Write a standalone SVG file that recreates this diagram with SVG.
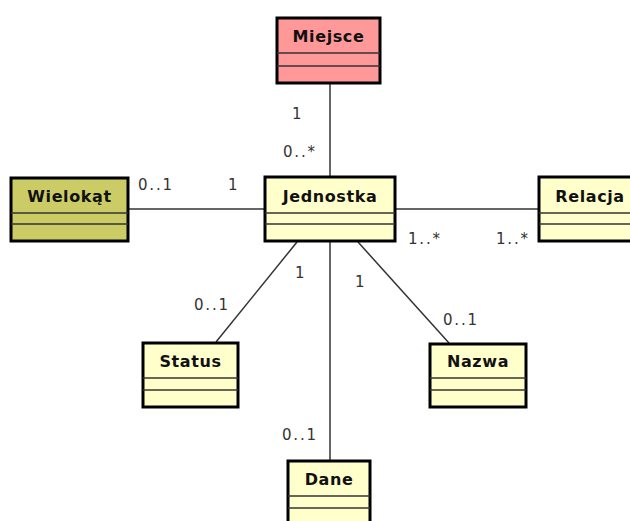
<svg xmlns="http://www.w3.org/2000/svg" width="630" height="521" viewBox="0 0 630 521">
<style>
.box{stroke:#000;stroke-width:3}
.sep{stroke:#333;stroke-width:1.5}
.t{font-family:"DejaVu Sans",sans-serif;font-weight:bold;font-size:16px;letter-spacing:0.6px;text-anchor:middle;fill:#111}
.l{font-family:"DejaVu Sans",sans-serif;font-size:15px;letter-spacing:1.8px;fill:#333}
.c{stroke:#333;stroke-width:1.5;fill:none}
.y{fill:#ffffcc}
</style>
<rect width="630" height="521" fill="#fff"/>
<g id="connectors">
<line class="c" x1="330" y1="84" x2="330" y2="177"/>
<line class="c" x1="128" y1="209" x2="265" y2="209"/>
<line class="c" x1="395" y1="209" x2="538" y2="209"/>
<line class="c" x1="297" y1="242" x2="216" y2="342"/>
<line class="c" x1="358" y1="242" x2="449" y2="343"/>
<line class="c" x1="330" y1="242" x2="330" y2="460"/>
<text class="l" x="292" y="119">1</text>
<text class="l" x="283" y="157">0..*</text>
<text class="l" x="138" y="190">0..1</text>
<text class="l" x="228" y="190">1</text>
<text class="l" x="408" y="244">1..*</text>
<text class="l" x="496" y="244">1..*</text>
<text class="l" x="295" y="278">1</text>
<text class="l" x="194" y="310">0..1</text>
<text class="l" x="355" y="287">1</text>
<text class="l" x="443" y="325">0..1</text>
<text class="l" x="282" y="440">0..1</text>
</g>
<g id="Miejsce">
<rect class="box" x="277" y="18" width="103" height="65" fill="#ff9999"/>
<line class="sep" x1="277" y1="53" x2="380" y2="53"/>
<line class="sep" x1="277" y1="66" x2="380" y2="66"/>
<text class="t" x="328.5" y="42">Miejsce</text>
</g>
<g id="Wielokat">
<rect class="box" x="11" y="178" width="117" height="63" fill="#cccc66"/>
<line class="sep" x1="11" y1="213" x2="128" y2="213"/>
<line class="sep" x1="11" y1="224" x2="128" y2="224"/>
<text class="t" x="69.5" y="202">Wielokąt</text>
</g>
<g id="Jednostka">
<rect class="box y" x="265" y="177" width="130" height="64"/>
<line class="sep" x1="265" y1="213" x2="395" y2="213"/>
<line class="sep" x1="265" y1="224" x2="395" y2="224"/>
<text class="t" x="330" y="202">Jednostka</text>
</g>
<g id="Relacja">
<rect class="box y" x="539" y="177" width="100" height="64"/>
<line class="sep" x1="539" y1="213" x2="639" y2="213"/>
<line class="sep" x1="539" y1="224" x2="639" y2="224"/>
<text class="t" x="590" y="202">Relacja</text>
</g>
<g id="Status">
<rect class="box y" x="143" y="343" width="95" height="64"/>
<line class="sep" x1="143" y1="378" x2="238" y2="378"/>
<line class="sep" x1="143" y1="390" x2="238" y2="390"/>
<text class="t" x="190.5" y="367">Status</text>
</g>
<g id="Nazwa">
<rect class="box y" x="430" y="344" width="96" height="63"/>
<line class="sep" x1="430" y1="378" x2="526" y2="378"/>
<line class="sep" x1="430" y1="390" x2="526" y2="390"/>
<text class="t" x="478" y="367">Nazwa</text>
</g>
<g id="Dane">
<rect class="box y" x="288" y="461" width="82" height="70"/>
<line class="sep" x1="288" y1="496" x2="370" y2="496"/>
<line class="sep" x1="288" y1="508" x2="370" y2="508"/>
<text class="t" x="329" y="485">Dane</text>
</g>
</svg>
